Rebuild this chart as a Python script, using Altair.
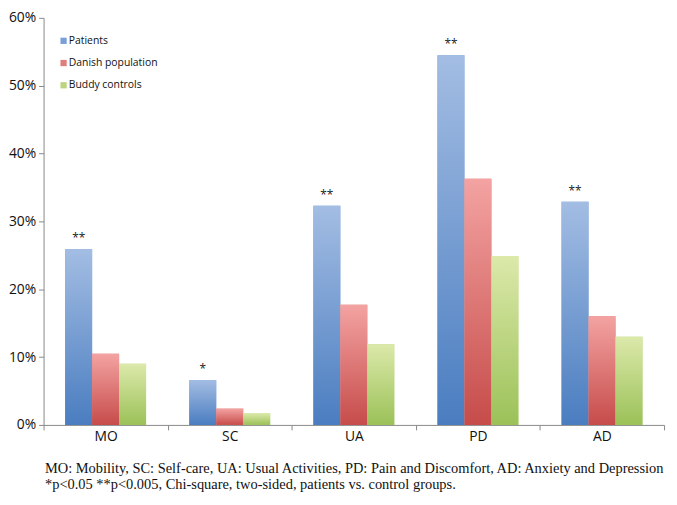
import altair as alt
import pandas as pd

categories = ["MO", "SC", "UA", "PD", "AD"]
series = ["Patients", "Danish population", "Buddy controls"]
patients = [0.259, 0.066, 0.323, 0.545, 0.329]
danish = [0.105, 0.024, 0.177, 0.363, 0.160]
buddy = [0.090, 0.017, 0.119, 0.249, 0.130]
stars = ["**", "*", "**", "**", "**"]
footnote = [
    "MO: Mobility, SC: Self-care, UA: Usual Activities, PD: Pain and Discomfort, AD: Anxiety and Depression",
    "*p<0.05 **p<0.005, Chi-square, two-sided, patients vs. control groups.",
]

solid = ["#7a9fd6", "#e07e7c", "#bcd47f"]
grads = [("#a3bde3", "#4a7dc0"), ("#f3a3a2", "#c64c4a"), ("#dce9aa", "#9bc158")]

rows = []
for i, c in enumerate(categories):
    for s, vals in zip(series, [patients, danish, buddy]):
        rows.append({"cat": c, "series": s, "value": vals[i]})
df = pd.DataFrame(rows)
sdf = pd.DataFrame({"cat": categories, "series": "Patients", "value": patients, "star": stars})

x_enc = alt.X(
    "cat:N",
    sort=categories,
    scale=alt.Scale(paddingInner=0, paddingOuter=0),
    axis=alt.Axis(
        title=None, labelAngle=0, labelFont="Open Sans", labelFontSize=14,
        labelColor="#111", tickBand="extent", tickSize=5, tickColor="#888",
        domainColor="#888", labelPadding=0,
    ),
)
xo_enc = alt.XOffset(
    "series:N", sort=series,
    scale=alt.Scale(domain=series, paddingInner=0, paddingOuter=0.8),
)
y_enc = alt.Y(
    "value:Q",
    scale=alt.Scale(domain=[0, 0.6], nice=False),
    axis=alt.Axis(
        title=None, format=".0%", values=[0, 0.1, 0.2, 0.3, 0.4, 0.5, 0.6],
        grid=False, labelFont="Open Sans", labelFontSize=14, labelColor="#111",
        tickSize=5, tickColor="#888", domainColor="#888", labelPadding=3,
    ),
)

base = alt.Chart(df).mark_bar().encode(
    x=x_enc, xOffset=xo_enc, y=y_enc,
    color=alt.Color(
        "series:N", sort=series,
        scale=alt.Scale(domain=series, range=solid),
        legend=alt.Legend(
            title=None, orient="none", legendX=15, legendY=18,
            symbolType="square", symbolSize=40, symbolStrokeWidth=0,
            labelFont="Open Sans", labelFontSize=10.5, labelColor="#111",
            rowPadding=11.5, labelOffset=0,
        ),
    ),
)

layers = [base]
for s, (top, bot) in zip(series, grads):
    layers.append(
        alt.Chart(df).transform_filter(alt.datum.series == s).mark_bar(
            color=alt.Gradient(
                gradient="linear", x1=0, y1=0, x2=0, y2=1,
                stops=[alt.GradientStop(color=top, offset=0), alt.GradientStop(color=bot, offset=1)],
            )
        ).encode(x=x_enc, xOffset=xo_enc, y=y_enc)
    )

text = alt.Chart(sdf).mark_text(
    dy=-11, font="Open Sans", fontSize=12, color="#222"
).encode(x=x_enc, xOffset=xo_enc, y=y_enc, text="star:N")
layers.append(text)

chart = alt.layer(*layers).properties(
    width=628, height=412,
    autosize=alt.AutoSizeParams(type="none"),
    padding={"left": 36, "top": 7, "right": 5, "bottom": 70},
    title=alt.TitleParams(
        text=footnote, orient="bottom", anchor="start", font="Liberation Serif",
        fontSize=14.6, fontWeight="normal", color="#111", lineHeight=16,
        dx=37, offset=18,
    ),
).configure_view(stroke=None)

chart.save("out.html", embed_options={"renderer": "svg", "actions": False})
